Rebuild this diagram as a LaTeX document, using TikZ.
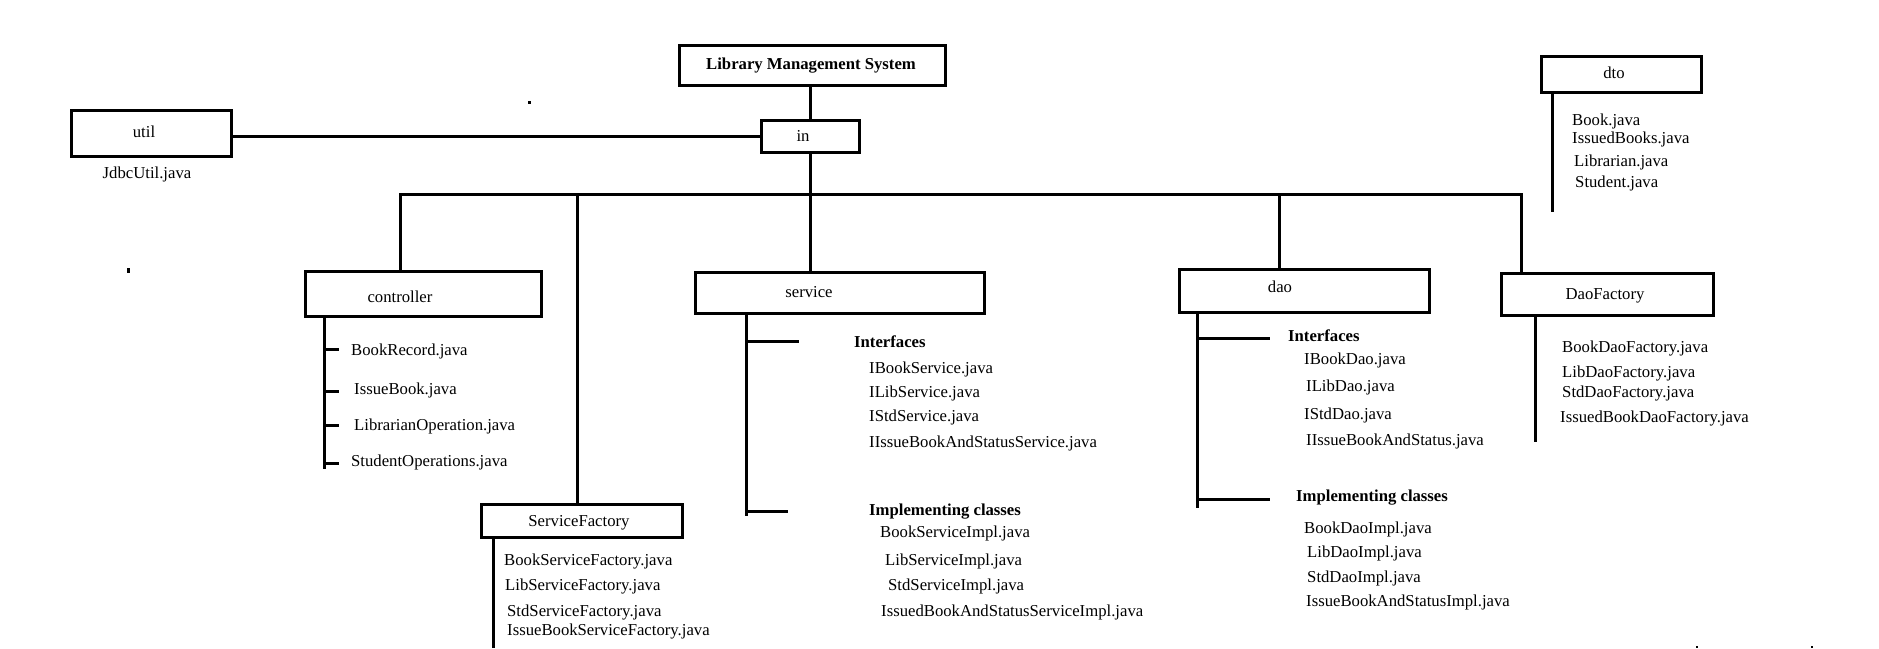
\documentclass[tikz,border=0pt]{standalone}
\usepackage{fontspec}
\setmainfont{Liberation Serif}
\begin{document}
\begin{tikzpicture}[x=1pt,y=-1pt,
  every node/.style={font=\fontsize{16.7}{20}\selectfont},
  box/.style={draw, line width=3pt, inner sep=0pt},
  lbl/.style={inner sep=0pt, anchor=center},
  item/.style={inner sep=0pt, anchor=west, yshift=-1.2pt},
  head/.style={inner sep=0pt, anchor=west, yshift=-1.2pt, font=\fontsize{16.7}{20}\selectfont\bfseries},
  wire/.style={line width=3pt},
  dotmark/.style={fill=black}]
\useasboundingbox (0,0) rectangle (1879,648);
\fill[white] (0,0) rectangle (1879,648);

% boxes
\node[box, minimum width=266pt, minimum height=40pt] (lms) at (812,65) {};
\node[box, minimum width=98pt, minimum height=32pt] (in) at (810,136) {};
\node[box, minimum width=160pt, minimum height=46pt] (util) at (151,133) {};
\node[box, minimum width=236pt, minimum height=45pt] (ctrl) at (423,293.5) {};
\node[box, minimum width=289pt, minimum height=41pt] (service) at (839.5,292.5) {};
\node[box, minimum width=250pt, minimum height=43pt] (dao) at (1304,290.5) {};
\node[box, minimum width=212pt, minimum height=42pt] (df) at (1607,294) {};
\node[box, minimum width=160pt, minimum height=36pt] (dto) at (1621,74) {};
\node[box, minimum width=201pt, minimum height=33pt] (sf) at (581.5,520.5) {};

% box labels
\node[lbl, font=\fontsize{16.7}{20}\selectfont\bfseries] (lmsT) at (811,66) {Library Management System};
\node[lbl] (inT) at (803,136) {in};
\node[lbl] (utilT) at (144,132) {util};
\node[lbl] (ctrlT) at (400,297) {controller};
\node[lbl] (serviceT) at (809,292) {service};
\node[lbl] (daoT) at (1280,287) {dao};
\node[lbl] (dfT) at (1605,296) {DaoFactory};
\node[lbl] (sfT) at (579,523) {ServiceFactory};
\node[lbl] (dtoT) at (1614,73) {dto};
\node[lbl] (jdbc) at (147,174) {JdbcUtil.java};

% main connectors
\draw[wire] (in.north) -- (in.north |- lms.south);
\draw[wire] (in.west) -- (in.west -| util.east);
\draw[wire] (in.south) -- (in.south |- service.north);
\coordinate (bA) at (400,194);
\coordinate (bB) at (577,194);
\coordinate (bD) at (1279,194);
\coordinate (bE) at (1521,194);
\draw[wire] (bA |- ctrl.north) -- (bA) -- (bE) -- (bE |- df.north);
\draw[wire] (bB) -- (bB |- sf.north);
\draw[wire] (bD) -- (bD |- dao.north);

% controller
\node[item] (c1) at (351,350) {BookRecord.java};
\node[item] (c2) at (354,389) {IssueBook.java};
\node[item] (c3) at (354,425) {LibrarianOperation.java};
\node[item] (c4) at (351,461) {StudentOperations.java};
\coordinate (cS) at (324,469);
\draw[wire] (cS |- ctrl.south) -- (cS);
\coordinate (ct1) at (324,349);
\coordinate (ct2) at (324,391);
\coordinate (ct3) at (324,425);
\coordinate (ct4) at (324,463);
\foreach \t in {ct1,ct2,ct3,ct4} \draw[wire] (\t) -- ++(15,0);

% service factory
\node[item] (f1) at (504,560) {BookServiceFactory.java};
\node[item] (f2) at (505,585) {LibServiceFactory.java};
\node[item] (f3) at (507,611) {StdServiceFactory.java};
\node[item] (f4) at (507,630) {IssueBookServiceFactory.java};
\coordinate (fS) at (493,648);
\draw[wire] (fS |- sf.south) -- (fS);

% service
\node[head] (sI) at (854,340) {Interfaces};
\node[item] (s1) at (869,368) {IBookService.java};
\node[item] (s2) at (869,392) {ILibService.java};
\node[item] (s3) at (869,416) {IStdService.java};
\node[item] (s4) at (869,442) {IIssueBookAndStatusService.java};
\node[head] (sC) at (869,510) {Implementing classes};
\node[item] (s5) at (880,532) {BookServiceImpl.java};
\node[item] (s6) at (885,560) {LibServiceImpl.java};
\node[item] (s7) at (888,585) {StdServiceImpl.java};
\node[item] (s8) at (881,611) {IssuedBookAndStatusServiceImpl.java};
\coordinate (sS) at (746,516);
\draw[wire] (sS |- service.south) -- (sS);
\coordinate (st1) at (746,341);
\coordinate (st2) at (746,511);
\draw[wire] (st1) -- ++(53,0);
\draw[wire] (st2) -- ++(42,0);

% dao
\node[head] (dI) at (1288,334) {Interfaces};
\node[item] (d1) at (1304,359) {IBookDao.java};
\node[item] (d2) at (1306,386) {ILibDao.java};
\node[item] (d3) at (1304,414) {IStdDao.java};
\node[item] (d4) at (1306,440) {IIssueBookAndStatus.java};
\node[head] (dC) at (1296,496) {Implementing classes};
\node[item] (d5) at (1304,528) {BookDaoImpl.java};
\node[item] (d6) at (1307,552) {LibDaoImpl.java};
\node[item] (d7) at (1307,577) {StdDaoImpl.java};
\node[item] (d8) at (1306,601) {IssueBookAndStatusImpl.java};
\coordinate (dS) at (1197,508);
\draw[wire] (dS |- dao.south) -- (dS);
\coordinate (dt1) at (1197,338);
\coordinate (dt2) at (1197,499);
\draw[wire] (dt1) -- ++(73,0);
\draw[wire] (dt2) -- ++(73,0);

% dao factory
\node[item] (g1) at (1562,347) {BookDaoFactory.java};
\node[item] (g2) at (1562,372) {LibDaoFactory.java};
\node[item] (g3) at (1562,392) {StdDaoFactory.java};
\node[item] (g4) at (1560,417) {IssuedBookDaoFactory.java};
\coordinate (gS) at (1535,442);
\draw[wire] (gS |- df.south) -- (gS);

% dto
\node[item] (o1) at (1572,120) {Book.java};
\node[item] (o2) at (1572,138) {IssuedBooks.java};
\node[item] (o3) at (1574,161) {Librarian.java};
\node[item] (o4) at (1575,182) {Student.java};
\coordinate (oS) at (1552,212);
\draw[wire] (oS |- dto.south) -- (oS);

% stray marks
\fill[dotmark] (527.5,100.5) rectangle (530.5,103.5);
\fill[dotmark] (126.5,268) rectangle (129.5,272.5);
\fill[dotmark] (1696,645.5) rectangle (1698,648);
\fill[dotmark] (1811,645.5) rectangle (1813,648);
\end{tikzpicture}
\end{document}
